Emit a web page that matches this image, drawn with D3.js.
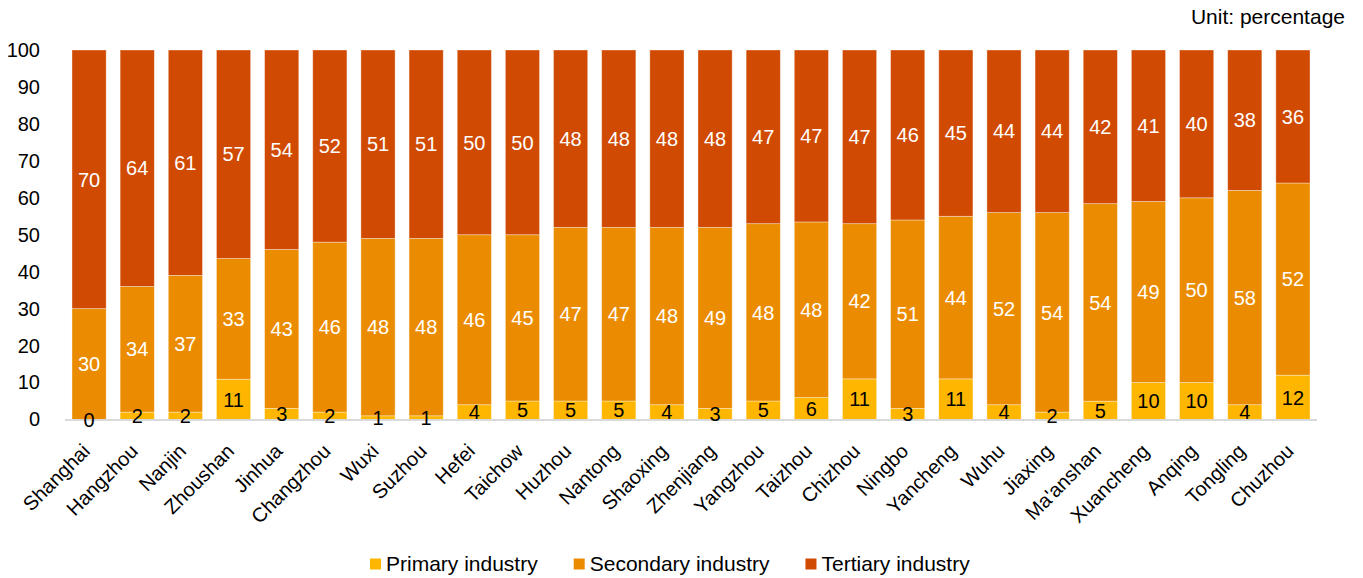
<!DOCTYPE html>
<html>
<head>
<meta charset="utf-8">
<script src="https://cdn.jsdelivr.net/npm/d3@7/dist/d3.min.js"></script>
<style>
  html, body { margin: 0; padding: 0; background: #fff; }
  svg { display: block; font-family: "Liberation Sans", Arial, Helvetica, sans-serif; }
</style>
</head>
<body>
<svg id="chart" width="1363" height="578"></svg>
<script>
// Industry structure of Yangtze River Delta cities (% of GDP)
const cities = ["Shanghai", "Hangzhou", "Nanjin", "Zhoushan", "Jinhua", "Changzhou", "Wuxi", "Suzhou",
  "Hefei", "Taichow", "Huzhou", "Nantong", "Shaoxing", "Zhenjiang", "Yangzhou", "Taizhou", "Chizhou",
  "Ningbo", "Yancheng", "Wuhu", "Jiaxing", "Ma'anshan", "Xuancheng", "Anqing", "Tongling", "Chuzhou"];
const primary   = [0, 2, 2, 11, 3, 2, 1, 1, 4, 5, 5, 5, 4, 3, 5, 6, 11, 3, 11, 4, 2, 5, 10, 10, 4, 12];
const secondary = [30, 34, 37, 33, 43, 46, 48, 48, 46, 45, 47, 47, 48, 49, 48, 48, 42, 51, 44, 52, 54, 54, 49, 50, 58, 52];
const tertiary  = [70, 64, 61, 57, 54, 52, 51, 51, 50, 50, 48, 48, 48, 48, 47, 47, 47, 46, 45, 44, 44, 42, 41, 40, 38, 36];
const seriesNames = ["Primary industry", "Secondary industry", "Tertiary industry"];
const seriesColors = ["#FFB600", "#EB8C00", "#D04A02"];
const labelColors = ["#000", "#fff", "#fff"];
const yTicks = [0, 10, 20, 30, 40, 50, 60, 70, 80, 90, 100];
const unitText = "Unit: percentage";

const svg = d3.select("#chart");
const plot = { left: 65, right: 1317, top: 50, bottom: 419.5 };

const rows = cities.map((c, i) => ({ city: c, p0: primary[i], p1: secondary[i], p2: tertiary[i] }));
const keys = ["p0", "p1", "p2"];
// 100% stacked: each city's shares normalised to a full column
const stacked = d3.stack().keys(keys).offset(d3.stackOffsetExpand)(rows);

const x = d3.scaleBand().domain(cities).range([plot.left, plot.right])
  .paddingInner(0.29).paddingOuter(0.145);
const y = d3.scaleLinear().domain([0, 100]).range([plot.bottom, plot.top]);

// y axis tick labels
const yAxis = d3.axisLeft(y).tickValues(yTicks).tickSize(0).tickPadding(25);
const gy = svg.append("g").attr("transform", `translate(${plot.left},0)`).call(yAxis);
gy.select(".domain").remove();
gy.selectAll("text").attr("font-size", 20).attr("fill", "#000")
  .attr("font-family", "'Liberation Sans', Arial, sans-serif");

// bars
const layers = svg.append("g").selectAll("g").data(stacked).join("g")
  .attr("fill", (d, i) => seriesColors[i]);
layers.selectAll("rect").data(d => d).join("rect")
  .attr("x", d => x(d.data.city))
  .attr("width", x.bandwidth())
  .attr("y", d => y(d[1] * 100))
  .attr("height", d => y(d[0] * 100) - y(d[1] * 100))
  .attr("stroke", "#fff").attr("stroke-opacity", 0.45).attr("stroke-width", 0.8);

// baseline
svg.append("line")
  .attr("x1", plot.left).attr("x2", plot.right)
  .attr("y1", y(0) + 0.5).attr("y2", y(0) + 0.5)
  .attr("stroke", "#D9D9D9").attr("stroke-width", 2);

// value labels centred in each segment
const labelLayers = svg.append("g").selectAll("g").data(stacked).join("g")
  .attr("fill", (d, i) => labelColors[i]);
labelLayers.selectAll("text").data(d => d.map(v => ({ v, key: d.key }))).join("text")
  .attr("x", d => x(d.v.data.city) + x.bandwidth() / 2)
  .attr("y", d => y((d.v[0] + d.v[1]) / 2 * 100))
  .attr("dy", "0.36em")
  .attr("text-anchor", "middle")
  .attr("font-size", 20)
  .text(d => d.v.data[d.key]);

// x axis category labels, rotated
const gx = svg.append("g").attr("transform", `translate(0,${plot.bottom})`)
  .call(d3.axisBottom(x).tickSize(0).tickPadding(0));
gx.select(".domain").remove();
gx.selectAll("text")
  .attr("font-size", 20).attr("fill", "#000")
  .attr("font-family", "'Liberation Sans', Arial, sans-serif")
  .attr("text-anchor", "end")
  .attr("dy", "0.35em")
  .attr("y", 0)
  .attr("transform", "translate(-3,28) rotate(-45)");

// unit note
svg.append("text").attr("x", 1345).attr("y", 24).attr("text-anchor", "end")
  .attr("font-size", 21).text(unitText);

// legend
const legend = svg.append("g").attr("transform", "translate(370,564)");
let lx = 0;
seriesNames.forEach((name, i) => {
  const g = legend.append("g").attr("transform", `translate(${lx},0)`);
  g.append("rect").attr("x", 0).attr("y", -5.5).attr("width", 11).attr("height", 11)
    .attr("fill", seriesColors[i]);
  const t = g.append("text").attr("x", 16).attr("dy", "0.35em").attr("font-size", 21).text(name);
  lx += 16 + t.node().getComputedTextLength() + 36;
});
</script>
</body>
</html>
